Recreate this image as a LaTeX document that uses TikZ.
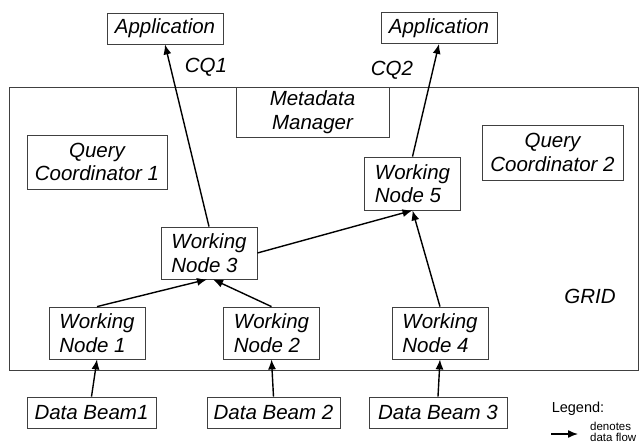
\documentclass[tikz,border=0pt]{standalone}
\usepackage{fontspec}
\setmainfont{Liberation Sans}
\usepackage{tikz}
\usetikzlibrary{arrows.meta}
\tikzset{
	box/.style={draw=black!75, line width=0.8pt, rectangle, inner sep=0pt, font=\itshape\fontsize{20.5}{23.5}\selectfont},
	wnode/.style={box, minimum width=96pt, minimum height=52pt, align=left},
	flow/.style={line width=1.4pt, -{Latex[length=10pt,width=8pt]}},
	lbl/.style={font=\itshape\fontsize{20.5}{23.5}\selectfont}
}

\begin{document}
\begin{tikzpicture}[x=1pt,y=-1pt]
	\useasboundingbox (0,0) rectangle (641,445);
	\node[box, minimum width=629pt, minimum height=283pt] (grid) at (323.5,228.5) {};
	\node[lbl] (gridlabel) at (590,296) {GRID};
	%
	\node[box, minimum width=116pt, minimum height=31pt] (app1) at (165,28.5) {Application};
	\node[box, minimum width=116pt, minimum height=31pt] (app2) at (439,28) {Application};
	\node[lbl] (cq1) at (206,67) {CQ1};
	\node[lbl] (cq2) at (392,70) {CQ2};
	\node[box, minimum width=153pt, minimum height=50pt, align=center] (meta) at (312.5,112) {Metadata\\Manager};
	\node[box, minimum width=140pt, minimum height=54pt, align=center] (qc1) at (97,162) {Query\\Coordinator 1};
	\node[box, minimum width=141pt, minimum height=55pt, align=center] (qc2) at (552.5,152.5) {Query\\Coordinator 2};
	%
	\node[wnode, minimum height=53pt] (wn5) at (412.5,183.5) {Working\\Node 5};
	\node[wnode] (wn3) at (209,253) {Working\\Node 3};
	\node[wnode] (wn1) at (97,333) {Working\\Node 1};
	\node[wnode] (wn2) at (271.5,333) {Working\\Node 2};
	\node[wnode] (wn4) at (440,333) {Working\\Node 4};
	%
	\node[box, minimum width=129pt, minimum height=31pt] (db1) at (91.5,412.5) {Data Beam1};
	\node[box, minimum width=133pt, minimum height=31pt] (db2) at (273.5,412.5) {Data Beam 2};
	\node[box, minimum width=138pt, minimum height=31pt] (db3) at (438,412.5) {Data Beam 3};
	%
	\draw [flow] (db1.north) to (wn1.south);
	\draw [flow] (db2.north) to (wn2.south);
	\draw [flow] (db3.north) to (wn4.south);
	\draw [flow] (wn1.north) to ([xshift=-2pt]wn3.south);
	\draw [flow] (wn2.north) to ([xshift=4pt]wn3.south);
	\draw [flow] (wn3.north) to (app1.south);
	\draw [flow] (wn3.east) to (wn5.south);
	\draw [flow] (wn4.north) to (wn5.south);
	\draw [flow] (wn5.north) to (app2.south);
	%
	\node[font=\fontsize{14.5}{16}\selectfont] (legend) at (578,409) {Legend:};
	\coordinate (legstart) at (551,434);
	\coordinate (legstop) at (578,434);
	\draw [flow] (legstart) to (legstop);
	\node[anchor=west, align=left, inner sep=0pt, font=\fontsize{11.5}{11.5}\selectfont] (denotes) at (590,432) {denotes\\data flow};
\end{tikzpicture}
\end{document}
